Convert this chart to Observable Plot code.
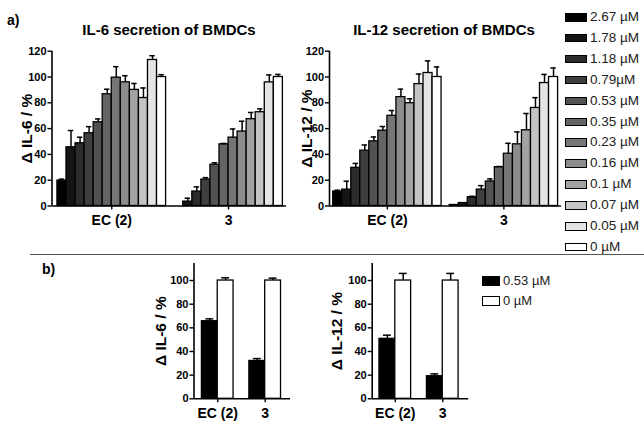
<!DOCTYPE html>
<html><head><meta charset="utf-8">
<script src="https://cdn.jsdelivr.net/npm/d3@7"></script>
<script src="https://cdn.jsdelivr.net/npm/@observablehq/plot@0.6"></script>
<style>
body{margin:0;background:#fff;}
#root{position:relative;width:644px;height:421px;overflow:hidden;font-family:"Liberation Sans",Arial,sans-serif;color:#000;}
.abs{position:absolute;white-space:nowrap;}
.ttl{font-weight:bold;font-size:15px;line-height:15px;}
.lab{font-weight:bold;font-size:14px;line-height:14px;}
.sw{position:absolute;box-sizing:border-box;border:1px solid #000;}
.lt{position:absolute;white-space:nowrap;font-size:13.5px;line-height:14px;color:#222;}
svg{position:absolute;}
</style></head><body><div id="root"></div>
<script>
// ---- data ----
const compounds = ["EC (2)", "3"];
const concentrations = ["2.67 µM","1.78 µM","1.18 µM","0.79µM","0.53 µM","0.35 µM","0.23 µM","0.16 µM","0.1 µM","0.07 µM","0.05 µM","0 µM"];
const shades = ["#000000","#151515","#2c2c2c","#3f3f3f","#525252","#656565","#767676","#8c8c8c","#a3a3a3","#c4c4c4","#e4e4e4","#ffffff"];
const yTicksA = [0,20,40,60,80,100,120];
const yTicksB = [0,20,40,60,80,100];

const il6EC    = [19.7, 45.5, 48.6, 56.4, 64.9, 86.6, 99.5, 95.9, 90.0, 83.7, 113.2, 100];
const il6ECsd  = [1.1, 13.0, 4.7, 5.1, 2.6, 3.9, 8.5, 5.1, 5.0, 7.8, 3.3, 1.8];
const il6C3    = [0, 3.4, 11.2, 20.5, 32.0, 47.8, 53.0, 57.7, 67.3, 72.7, 95.8, 100];
const il6C3sd  = [0, 2.6, 3.6, 1.5, 1.5, 0.7, 6.7, 8.0, 5.2, 2.6, 5.8, 2.0];
const il12EC   = [11.2, 12.7, 29.6, 42.9, 50.1, 58.4, 69.9, 84.4, 79.7, 94.5, 103.1, 100];
const il12ECsd = [1.0, 6.5, 3.4, 4.4, 3.4, 3.2, 4.1, 6.2, 3.4, 7.8, 9.4, 7.8];
const il12C3   = [0.8, 2.3, 6.8, 12.7, 19.0, 30.1, 40.5, 47.8, 58.7, 76.0, 95.3, 100];
const il12C3sd = [0, 0, 0.7, 3.1, 2.0, 0.5, 8.1, 9.6, 13.0, 8.0, 6.7, 7.0];

const bConcs = ["0.53 µM", "0 µM"];
const bShades = ["#000000", "#ffffff"];
const bIl6EC = [65.6, 100],  bIl6ECsd = [2.0, 2.3];
const bIl6C3 = [32.0, 100],  bIl6C3sd = [2.0, 2.0];
const bIl12EC = [50.7, 100], bIl12ECsd = [3.1, 6.0];
const bIl12C3 = [19.1, 100], bIl12C3sd = [2.0, 6.0];

// ---- helpers ----
function makeRows(concs, series, groupStep) {
  const rows = [];
  series.forEach(([vals, sds], g) => {
    vals.forEach((v, i) => {
      const x1 = g * groupStep + i;
      rows.push({compound: compounds[g], conc: concs[i], x1, x2: x1 + 1, xc: x1 + 0.5, value: v, top: v + sds[i], err: sds[i]});
    });
  });
  return rows;
}

const FONT = '"Liberation Sans", Arial, sans-serif';

function barPlot({rows, n, groupStep, xDomain, yDomain, yTicks, width, height, m, ylabel, labelDx, colorDomain, colorRange, cap, left, top}) {
  const centers = compounds.map((c, g) => g * groupStep + n / 2);
  const errRows = rows.filter(d => d.err > 0);
  const svg = Plot.plot({
    width, height,
    marginLeft: m[0], marginRight: m[1], marginTop: m[2], marginBottom: m[3],
    style: {fontFamily: FONT, color: "#000", background: "none", overflow: "visible"},
    x: {type: "linear", domain: xDomain, axis: null},
    y: {domain: yDomain, axis: null},
    color: {domain: colorDomain, range: colorRange},
    marks: [
      Plot.rectY(rows, {x1: "x1", x2: "x2", y1: 0, y2: "value", fill: "conc", stroke: "#000", strokeWidth: 1.3}),
      Plot.ruleX(errRows, {x: "xc", y1: "value", y2: "top", stroke: "#000", strokeWidth: 1.5}),
      Plot.ruleY(errRows, {y: "top", x1: d => d.xc - cap, x2: d => d.xc + cap, stroke: "#000", strokeWidth: 1.5}),
      Plot.ruleX([xDomain[0]], {stroke: "#000", strokeWidth: 1.6}),
      Plot.ruleY([0], {stroke: "#000", strokeWidth: 1.6}),
      Plot.axisY({ticks: yTicks, tickSize: 4, tickPadding: 1.5, label: null, fontSize: 11, fontWeight: "bold", strokeWidth: 1.4}),
      Plot.axisX({ticks: centers, tickFormat: v => compounds[centers.indexOf(v)], tickSize: 4, tickPadding: 5, label: null, fontSize: 14, fontWeight: "bold", strokeWidth: 1.4}),
      Plot.text([ylabel], {frameAnchor: "left", textAnchor: "middle", lineAnchor: "middle", rotate: -90, dx: labelDx, fontSize: 15.5, fontWeight: "bold", fill: "#000"})
    ]
  });
  svg.style.left = left + "px";
  svg.style.top = top + "px";
  return svg;
}

const root = document.getElementById("root");

// ---- panel a ----
const stepA = 12.9;
const rowsA6 = makeRows(concentrations, [[il6EC, il6ECsd], [il6C3, il6C3sd]], stepA);
const rowsA12 = makeRows(concentrations, [[il12EC, il12ECsd], [il12C3, il12C3sd]], stepA);

root.appendChild(barPlot({rows: rowsA6, n: 12, groupStep: stepA, xDomain: [-0.6, 25.3], yDomain: [0, 120], yTicks: yTicksA,
  width: 300, height: 235, m: [51.5, 14, 50.7, 29.5], ylabel: "Δ IL-6 / %", labelDx: -25,
  colorDomain: concentrations, colorRange: shades, cap: 0.3, left: 0, top: 0}));
root.appendChild(barPlot({rows: rowsA12, n: 12, groupStep: stepA, xDomain: [-0.41, 25.28], yDomain: [0, 120], yTicks: yTicksA,
  width: 290, height: 235, m: [49, 9, 50.7, 29.5], ylabel: "Δ IL-12 / %", labelDx: -22,
  colorDomain: concentrations, colorRange: shades, cap: 0.3, left: 280, top: 0}));

// ---- panel b ----
const stepB = 3;
const rowsB6 = makeRows(bConcs, [[bIl6EC, bIl6ECsd], [bIl6C3, bIl6C3sd]], stepB);
const rowsB12 = makeRows(bConcs, [[bIl12EC, bIl12ECsd], [bIl12C3, bIl12C3sd]], stepB);

root.appendChild(barPlot({rows: rowsB6, n: 2, groupStep: stepB, xDomain: [-0.5, 5.6], yDomain: [0, 114.4], yTicks: yTicksB,
  width: 180, height: 171, m: [73.5, 10, 13, 22.7], ylabel: "Δ IL-6 / %", labelDx: -32.5,
  colorDomain: bConcs, colorRange: bShades, cap: 0.25, left: 120, top: 250}));
root.appendChild(barPlot({rows: rowsB12, n: 2, groupStep: stepB, xDomain: [-0.46, 5.64], yDomain: [0, 114.4], yTicks: yTicksB,
  width: 180, height: 171, m: [71.7, 11.8, 13, 22.7], ylabel: "Δ IL-12 / %", labelDx: -35,
  colorDomain: bConcs, colorRange: bShades, cap: 0.25, left: 300, top: 250}));

// ---- text, legends, separator ----
function addText(cls, txt, css) {
  const d = document.createElement("div");
  d.className = "abs " + cls;
  d.textContent = txt;
  Object.assign(d.style, css);
  root.appendChild(d);
  return d;
}
addText("lab", "a)", {left: "7px", top: "13px"});
addText("lab", "b)", {left: "42px", top: "262px"});
addText("ttl", "IL-6 secretion of BMDCs", {left: "169px", top: "22px", transform: "translateX(-50%)"});
addText("ttl", "IL-12 secretion of BMDCs", {left: "444px", top: "22px", transform: "translateX(-50%)"});

const sep = document.createElement("div");
Object.assign(sep.style, {position: "absolute", left: "30px", top: "253.5px", width: "614px", height: "1.5px", background: "#555"});
root.appendChild(sep);

concentrations.forEach((c, i) => {
  const cy = 17 + 20.9 * i;
  const s = document.createElement("div");
  s.className = "sw";
  Object.assign(s.style, {left: "565px", top: (cy - 4) + "px", width: "22px", height: "8.5px", background: shades[i]});
  root.appendChild(s);
  const t = document.createElement("div");
  t.className = "lt";
  t.textContent = c;
  Object.assign(t.style, {left: "590px", top: (cy - 7) + "px"});
  root.appendChild(t);
});

bConcs.forEach((c, i) => {
  const cy = 281 + 19.8 * i;
  const s = document.createElement("div");
  s.className = "sw";
  Object.assign(s.style, {left: "481.5px", top: (cy - 5) + "px", width: "18px", height: "10px", background: bShades[i]});
  root.appendChild(s);
  const t = document.createElement("div");
  t.className = "lt";
  t.textContent = c;
  Object.assign(t.style, {left: "503px", top: (cy - 7) + "px", fontSize: "13px"});
  root.appendChild(t);
});
</script>
</body></html>
